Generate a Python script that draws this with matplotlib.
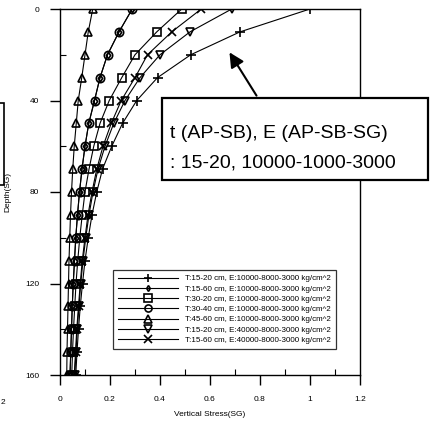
import matplotlib
matplotlib.use("Agg")
import matplotlib.pyplot as plt
from matplotlib.patches import Rectangle, FancyArrowPatch
from matplotlib.ticker import MultipleLocator

plt.rcParams['font.family'] = ['Liberation Sans Narrow', 'Liberation Sans', 'DejaVu Sans']

# Depth below surface (SG) and computed vertical stress for each pavement case
depth = [0, 10, 20, 30, 40, 50, 60, 70, 80, 90, 100, 110, 120, 130, 140, 150, 160]

s_t1520_e10000 = [1.0, 0.72, 0.523, 0.39, 0.307, 0.25, 0.207, 0.17, 0.147, 0.128,
                  0.113, 0.100, 0.090, 0.081, 0.074, 0.068, 0.063]
s_t1560_e10000 = [0.289, 0.236, 0.19, 0.16, 0.138, 0.115, 0.100, 0.088, 0.078, 0.070,
                  0.063, 0.058, 0.053, 0.049, 0.046, 0.043, 0.040]
s_t3020_e10000 = [0.487, 0.387, 0.30, 0.247, 0.197, 0.16, 0.135, 0.116, 0.100, 0.089,
                  0.079, 0.071, 0.064, 0.059, 0.054, 0.050, 0.047]
s_t3040_e10000 = [0.289, 0.236, 0.19, 0.16, 0.138, 0.115, 0.100, 0.088, 0.078, 0.070,
                  0.063, 0.058, 0.053, 0.049, 0.046, 0.043, 0.040]
s_t4560_e10000 = [0.131, 0.113, 0.10, 0.087, 0.073, 0.065, 0.057, 0.051, 0.046, 0.042,
                  0.039, 0.036, 0.034, 0.032, 0.030, 0.028, 0.027]
s_t1520_e40000 = [0.687, 0.52, 0.40, 0.32, 0.26, 0.215, 0.18, 0.152, 0.132, 0.116,
                  0.103, 0.092, 0.083, 0.076, 0.069, 0.064, 0.059]
s_t1560_e40000 = [0.565, 0.447, 0.35, 0.30, 0.245, 0.205, 0.172, 0.147, 0.128, 0.112,
                  0.100, 0.089, 0.081, 0.074, 0.067, 0.062, 0.057]

labels = [
    "T:15-20 cm, E:10000-8000-3000 kg/cm^2",
    "T:15-60 cm, E:10000-8000-3000 kg/cm^2",
    "T:30-20 cm, E:10000-8000-3000 kg/cm^2",
    "T:30-40 cm, E:10000-8000-3000 kg/cm^2",
    "T:45-60 cm, E:10000-8000-3000 kg/cm^2",
    "T:15-20 cm, E:40000-8000-3000 kg/cm^2",
    "T:15-60 cm, E:40000-8000-3000 kg/cm^2",
]
series = [s_t1520_e10000, s_t1560_e10000, s_t3020_e10000, s_t3040_e10000,
          s_t4560_e10000, s_t1520_e40000, s_t1560_e40000]
markers = ['+', 'd', 's', 'o', '^', 'v', 'x']
msizes = [7, 3.5, 6, 6, 6, 6, 6]

xticks = [0, 0.2, 0.4, 0.6, 0.8, 1.0, 1.2]
xticklabels = ['0', '0.2', '0.4', '0.6', '0.8', '1', '1.2']
yticks = [0, 40, 80, 120, 160]

W, H = 435, 422
fig = plt.figure(figsize=(W / 100, H / 100), dpi=100)


def fx(px):
    return px / W


def fy(py):
    return 1 - py / H


ax = fig.add_axes([fx(60), fy(375), fx(360) - fx(60), fy(9) - fy(375)])

for vals, lab, m, ms in zip(series, labels, markers, msizes):
    ax.plot(vals, depth, color='black', lw=0.8, marker=m, markersize=ms,
            markerfacecolor='none', markeredgecolor='black', markeredgewidth=1.2,
            label=lab)

ax.set_xlim(0, 1.2)
ax.set_ylim(160, 0)
ax.set_xticks(xticks)
ax.set_xticklabels(xticklabels)
ax.set_yticks(yticks)
ax.xaxis.set_minor_locator(MultipleLocator(0.1))
ax.yaxis.set_minor_locator(MultipleLocator(20))
ax.tick_params(which='major', direction='out', length=7, width=1, labelsize=6, pad=8)
ax.tick_params(which='minor', direction='in', length=4, width=0.8)
for sp in ax.spines.values():
    sp.set_linewidth(1.0)

ax.set_xlabel("Vertical Stress(SG)", fontsize=6, labelpad=6)
ax.set_ylabel("Depth(SG)", fontsize=6, labelpad=10)

leg = ax.legend(loc='upper left', bbox_to_anchor=(fx(113), fy(270)),
                bbox_transform=fig.transFigure, borderaxespad=0, fontsize=5.8,
                frameon=True, fancybox=False, edgecolor='black',
                handlelength=7.5, handletextpad=0.9, labelspacing=0.32,
                borderpad=0.6, markerscale=0.85)
leg.get_frame().set_linewidth(0.9)

# Callout box describing the reference case
fig.patches.append(Rectangle((fx(162), fy(180)), fx(428) - fx(162), fy(98) - fy(180),
                             transform=fig.transFigure, fill=True, facecolor='white',
                             edgecolor='black', lw=1.6, zorder=5))
fig.text(fx(170), fy(133), "t (AP-SB), E (AP-SB-SG)", fontsize=14, va='center',
         ha='left', zorder=6)
fig.text(fx(170), fy(163), ": 15-20, 10000-1000-3000", fontsize=14, va='center',
         ha='left', zorder=6)
fig.add_artist(FancyArrowPatch(
    (fx(258), fy(98)), (fx(228), fy(50)), transform=fig.transFigure,
    arrowstyle='-|>', mutation_scale=22, lw=1.5, color='black', zorder=6))

# Edge of the neighbouring panel
fig.patches.append(Rectangle((fx(-20), fy(185)), fx(24), fy(103) - fy(185),
                             transform=fig.transFigure, fill=False,
                             edgecolor='black', lw=1.2))
fig.text(fx(3), fy(402), "2", fontsize=6, ha='center', va='center')

fig.savefig("out.png", dpi=100)
